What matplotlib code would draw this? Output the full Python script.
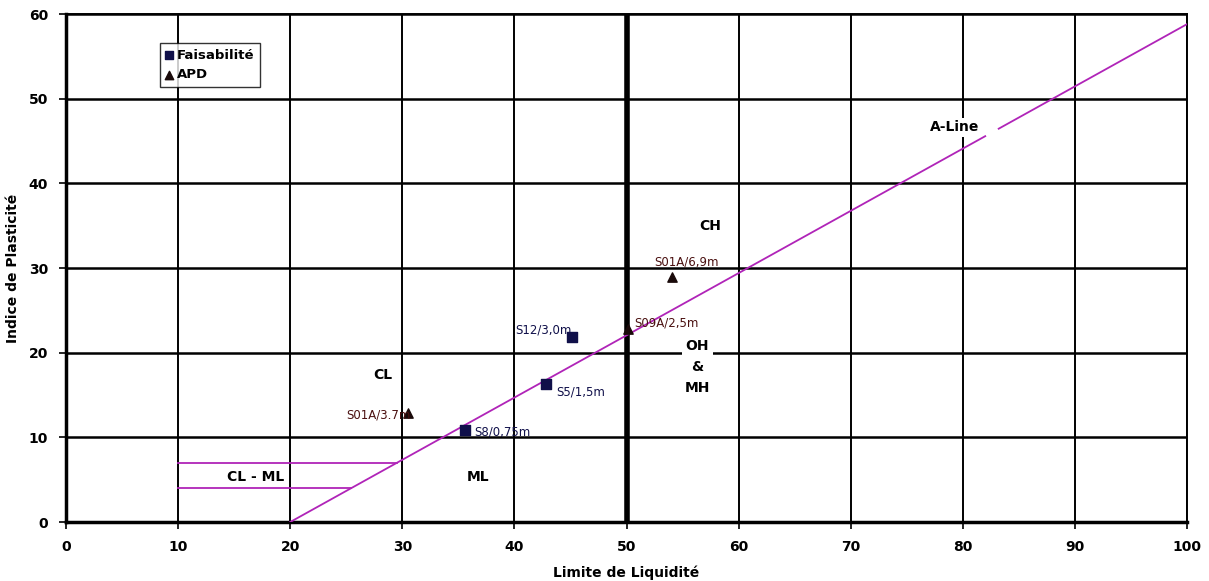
import matplotlib.pyplot as plt
import numpy as np

# sample data
faisa_names = ["S8/0,75m", "S5/1,5m", "S12/3,0m"]
faisa_ll = [35.6, 42.8, 45.1]
faisa_ip = [10.9, 16.3, 21.8]

apd_names = ["S01A/3.7m", "S09A/2,5m", "S01A/6,9m"]
apd_ll = [30.5, 50.1, 54.1]
apd_ip = [12.9, 22.8, 28.9]

zone_names = ["CH", "OH\n&\nMH", "ML", "CL - ML", "CL", "A-Line"]
zone_ll = [57.5, 56.3, 36.8, 16.9, 28.3, 79.3]
zone_ip = [35.0, 18.3, 5.3, 5.3, 17.4, 46.6]

a_slope = 0.735
purple = "#b024b8"
navy = "#10104a"
brown = "#4a1010"

fig = plt.figure(figsize=(12.09, 5.81), dpi=100)
ax = fig.add_axes([0.0546, 0.1015, 0.9272, 0.8744])
ax.set_xlim(0, 100)
ax.set_ylim(0, 60)

# grid
for x in range(10, 101, 10):
    ax.axvline(x, color="black", lw=4 if x == 50 else 1.4, zorder=1)
for y in range(10, 61, 10):
    ax.axhline(y, color="black", lw=1.8, zorder=1)

# A-line, with a small gap near the label
ll1 = np.array([20, 82.0])
ll2 = np.array([83.2, 100])
ax.plot(ll1, a_slope * (ll1 - 20), color=purple, lw=1.3, zorder=3)
ax.plot(ll2, a_slope * (ll2 - 20), color=purple, lw=1.3, zorder=3)

# CL-ML band
ax.plot([10, 7 / a_slope + 20], [7, 7], color=purple, lw=1.3, zorder=3)
ax.plot([10, 4 / a_slope + 20], [4, 4], color=purple, lw=1.3, zorder=3)

for name, x, y in zip(zone_names, zone_ll, zone_ip):
    ax.text(x, y, name, ha="center", va="center", fontsize=10, fontweight="bold",
            linespacing=1.6, zorder=4,
            bbox=dict(facecolor="white", edgecolor="none", pad=2))

ax.scatter(faisa_ll, faisa_ip, marker="s", s=45, color=navy, zorder=5, label="Faisabilité")
ax.scatter(apd_ll, apd_ip, marker="^", s=45, color="#1a0a0a", zorder=5, label="APD")

faisa_off = [(0.8, -0.3, "left"), (0.9, -0.9, "left"), (0.0, 0.9, "right")]
for name, x, y, (dx, dy, ha) in zip(faisa_names, faisa_ll, faisa_ip, faisa_off):
    ax.text(x + dx, y + dy, name, ha=ha, va="center", fontsize=8.5, color=navy, zorder=6)

apd_off = [(0.2, -0.3, "right"), (0.6, 0.7, "left"), (-1.6, 1.8, "left")]
for name, x, y, (dx, dy, ha) in zip(apd_names, apd_ll, apd_ip, apd_off):
    ax.text(x + dx, y + dy, name, ha=ha, va="center", fontsize=8.5, color=brown, zorder=6)

leg = ax.legend(loc="upper left", bbox_to_anchor=(0.078, 0.955), frameon=True, fancybox=False,
                edgecolor="black", handlelength=0.6, handletextpad=0.3, borderpad=0.4,
                labelspacing=0.5, prop={"weight": "bold", "size": 9.5}, markerscale=0.9)
leg.get_frame().set_linewidth(1.0)

ax.set_xticks(range(0, 101, 10))
ax.set_yticks(range(0, 61, 10))
for lab in ax.get_xticklabels() + ax.get_yticklabels():
    lab.set_fontweight("bold")
ax.tick_params(labelsize=10, width=1.2, length=5, pad=8)
ax.set_xlabel("Limite de Liquidité", fontsize=10, fontweight="bold", labelpad=8)
ax.set_ylabel("Indice de Plasticité", fontsize=10, fontweight="bold", labelpad=6)

for side in ["left", "bottom"]:
    ax.spines[side].set_linewidth(2.5)
for side in ["top", "right"]:
    ax.spines[side].set_linewidth(1.4)

plt.savefig("out.png", dpi=100)
